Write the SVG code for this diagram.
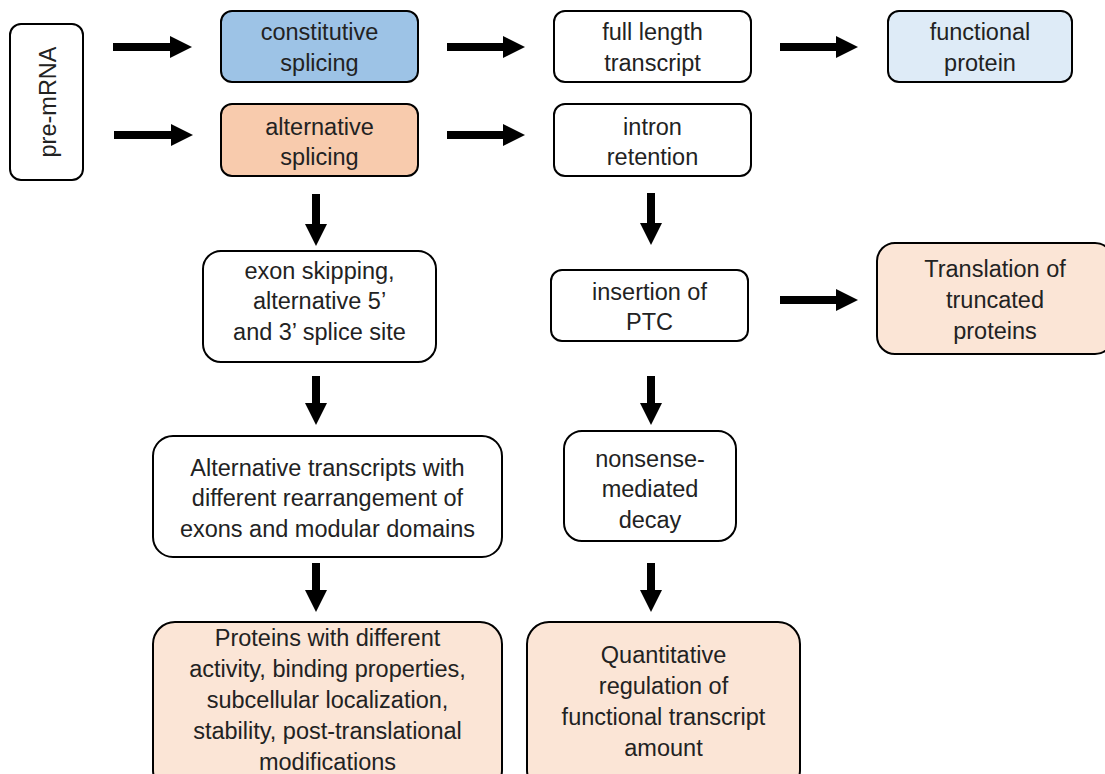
<svg xmlns="http://www.w3.org/2000/svg" width="1105" height="774" viewBox="0 0 1105 774">
<defs>
<marker id="ah" markerUnits="userSpaceOnUse" markerWidth="22" markerHeight="22" viewBox="0 0 22 22" refX="1" refY="11" orient="auto">
<path d="M0,0 L22,11 L0,22 z" fill="#000"/>
</marker>
<style>
.box{stroke:#000;stroke-width:2}
.w{fill:#fff}
.blue{fill:#9DC3E6}
.lblue{fill:#DEEBF7}
.orange{fill:#F8CBAD}
.peach{fill:#FBE5D6}
text{font-family:"Liberation Sans",Arial,sans-serif;font-size:23.5px;fill:#222;text-anchor:middle}
.c line{stroke:#000;stroke-width:8;marker-end:url(#ah)}
</style>
</defs>
<rect width="1105" height="774" fill="#fff"/>
<g id="pre-mrna"><rect class="box w" x="10" y="24" width="73" height="156" rx="11"/><text transform="translate(56,102) rotate(-90)">pre-mRNA</text></g>
<g id="constitutive"><rect class="box blue" x="221" y="11" width="197" height="71" rx="11"/><text x="319.5" y="40">constitutive</text><text x="319.5" y="71">splicing</text></g>
<g id="alternative"><rect class="box orange" x="221" y="104" width="197" height="72" rx="11"/><text x="319.5" y="135">alternative</text><text x="319.5" y="165">splicing</text></g>
<g id="fulllength"><rect class="box w" x="554" y="11" width="197" height="71" rx="11"/><text x="652.5" y="40">full length</text><text x="652.5" y="71">transcript</text></g>
<g id="intron"><rect class="box w" x="554" y="104" width="197" height="72" rx="11"/><text x="652.5" y="135">intron</text><text x="652.5" y="165">retention</text></g>
<g id="functional"><rect class="box lblue" x="888" y="11" width="184" height="71" rx="11"/><text x="980" y="40">functional</text><text x="980" y="71">protein</text></g>
<g id="exon"><rect class="box w" x="203" y="251" width="233" height="111" rx="18"/><text x="319.5" y="279">exon skipping,</text><text x="319.5" y="309">alternative 5’</text><text x="319.5" y="340">and 3’ splice site</text></g>
<g id="ptc"><rect class="box w" x="551" y="270" width="197" height="71" rx="11"/><text x="649.5" y="300">insertion of</text><text x="649.5" y="330">PTC</text></g>
<g id="truncated"><rect class="box peach" x="877" y="243" width="236" height="111" rx="18"/><text x="995" y="277">Translation of</text><text x="995" y="308">truncated</text><text x="995" y="339">proteins</text></g>
<g id="alttranscripts"><rect class="box w" x="153" y="436" width="349" height="121" rx="20"/><text x="327.5" y="476">Alternative transcripts with</text><text x="327.5" y="506">different rearrangement of</text><text x="327.5" y="537">exons and modular domains</text></g>
<g id="nmd"><rect class="box w" x="564" y="431" width="172" height="110" rx="18"/><text x="650" y="467">nonsense-</text><text x="650" y="497">mediated</text><text x="650" y="528">decay</text></g>
<g id="proteins"><rect class="box peach" x="153" y="622" width="349" height="170" rx="22"/><text x="327.5" y="646">Proteins with different</text><text x="327.5" y="677">activity, binding properties,</text><text x="327.5" y="708">subcellular localization,</text><text x="327.5" y="739">stability, post-translational</text><text x="327.5" y="770">modifications</text></g>
<g id="quant"><rect class="box peach" x="527" y="622" width="273" height="170" rx="22"/><text x="663.5" y="663">Quantitative</text><text x="663.5" y="694">regulation of</text><text x="663.5" y="725">functional transcript</text><text x="663.5" y="756">amount</text></g>
<g id="connectors" class="c">
<line x1="113" y1="47" x2="171" y2="47"/>
<line x1="114" y1="135" x2="172" y2="135"/>
<line x1="447" y1="47" x2="504" y2="47"/>
<line x1="780" y1="47" x2="837" y2="47"/>
<line x1="447" y1="135" x2="504" y2="135"/>
<line x1="780" y1="300" x2="837" y2="300"/>
<line x1="316" y1="194" x2="316" y2="225"/>
<line x1="651" y1="193" x2="651" y2="224"/>
<line x1="316" y1="376" x2="316" y2="404"/>
<line x1="651" y1="376" x2="651" y2="404"/>
<line x1="316" y1="563" x2="316" y2="591"/>
<line x1="651" y1="563" x2="651" y2="591"/>
</g>
</svg>
